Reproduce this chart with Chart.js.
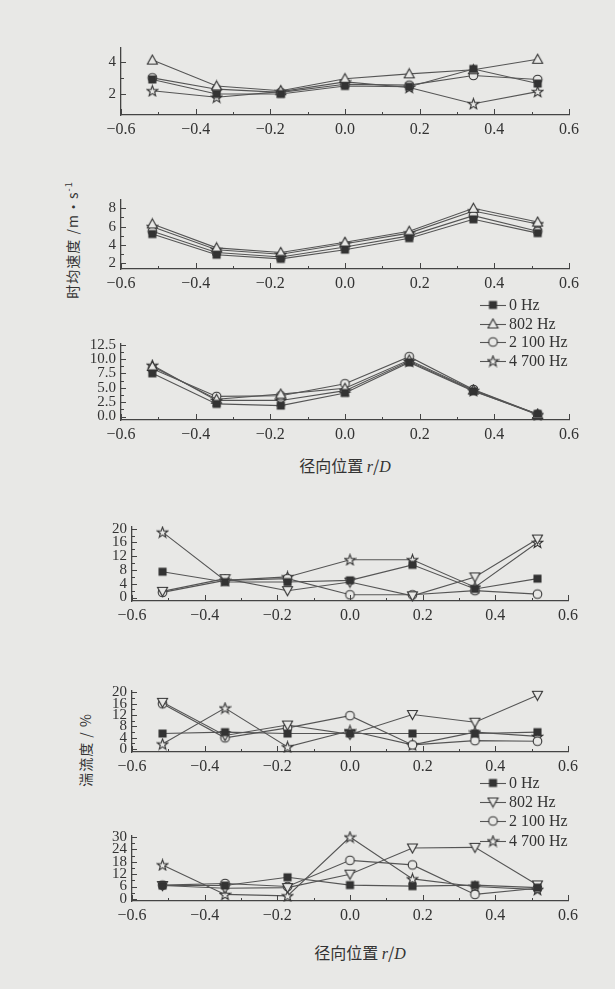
<!DOCTYPE html>
<html>
<head>
  <script src="https://cdn.jsdelivr.net/npm/chart.js@4.4.0/dist/chart.umd.min.js"></script>
  <style>
    body {
      margin: 0;
      width: 615px;
      height: 989px;
      position: relative;
      overflow: hidden;
      background: #e8e8e6;
      color: #333;
      font-family: "Liberation Serif", "DejaVu Serif", serif;
    }
    .plot { position: absolute; }
    .ytitle {
      position: absolute;
      transform: translate(-50%, -50%) rotate(-90deg);
      white-space: nowrap;
      font-family: "Noto Sans CJK SC", sans-serif;
      font-size: 14px;
      letter-spacing: 1px;
    }
    .xtitle {
      position: absolute;
      transform: translate(-50%, -50%);
      white-space: nowrap;
      font-family: "Noto Sans CJK SC", sans-serif;
      font-size: 16px;
    }
    .xtitle i, .ytitle i { font-family: "Liberation Serif", serif; }
    .legend { position: absolute; font-size: 16px; }
    .legend .row { display: flex; align-items: center; white-space: nowrap; }
    .legend canvas { margin-right: 3px; }
  </style>
</head>
<body>
  <div class="ytitle" style="left:72px; top:240px">时均速度 /m·s<sup style="font-size:9px">-1</sup></div>
  <div class="ytitle" style="left:85px; top:750px">湍流度 / %</div>
  <div class="xtitle" style="left:345px; top:465px">径向位置 <i>r</i>/<i>D</i></div>
  <div class="xtitle" style="left:360px; top:952px">径向位置 <i>r</i>/<i>D</i></div>
  <div class="legend" id="legTop" style="left:480px; top:296px"></div>
  <div class="legend" id="legBot" style="left:480px; top:773px"></div>

  <script>
    const BG = '#e8e8e6';
    const INK = '#333';
    const SERIF = '"Liberation Serif", "DejaVu Serif", serif';

    // radial positions and names
    const radial = [-0.516, -0.344, -0.172, 0, 0.172, 0.344, 0.516];
    const seriesNames = ['0 Hz', '802 Hz', '2 100 Hz', '4 700 Hz'];
    const xTicks = [-0.6, -0.4, -0.2, 0, 0.2, 0.4, 0.6];

    // mean velocity, three panels (m/s)
    const a0    = [2.9, 2.0, 2.0, 2.5, 2.45, 3.55, 2.65];
    const a802  = [4.1, 2.5, 2.2, 2.95, 3.25, 3.5, 4.15];
    const a2100 = [3.0, 2.3, 2.1, 2.6, 2.55, 3.15, 2.9];
    const a4700 = [2.2, 1.8, 2.15, 2.75, 2.4, 1.4, 2.15];
    const aTicks = [2, 4];

    const b0    = [5.2, 2.95, 2.5, 3.5, 4.75, 6.8, 5.3];
    const b802  = [6.3, 3.7, 3.2, 4.3, 5.5, 8.0, 6.5];
    const b2100 = [5.5, 3.2, 2.7, 3.8, 5.0, 7.2, 5.5];
    const b4700 = [6.0, 3.5, 3.0, 4.15, 5.3, 7.7, 6.3];
    const bTicks = [2, 4, 6, 8];

    const c0    = [7.5, 2.2, 1.9, 4.1, 9.4, 4.4, 0.45];
    const c802  = [8.7, 3.0, 3.9, 4.9, 9.8, 4.6, 0.35];
    const c2100 = [8.3, 3.5, 3.6, 5.7, 10.4, 4.7, 0.4];
    const c4700 = [8.9, 2.8, 2.8, 4.5, 9.6, 4.5, 0.3];
    const cTicks = [0, 2.5, 5, 7.5, 10, 12.5];

    // turbulence intensity, three panels (%)
    const d0    = [7.5, 4.5, 4.5, 5.0, 9.5, 2.5, 5.5];
    const d802  = [1.8, 5.5, 2.0, 4.5, 0.5, 6.0, 17];
    const d2100 = [1.5, 5.0, 5.5, 0.8, 0.8, 2.0, 1.0];
    const d4700 = [19, 5.0, 6.0, 11, 11, 3.0, 16];
    const dTicks = [0, 4, 8, 12, 16, 20];

    const e0    = [5.5, 6.0, 5.5, 5.5, 5.5, 5.5, 6.0];
    const e802  = [16.5, 4.8, 8.5, 5.2, 12.2, 9.5, 19];
    const e2100 = [16.0, 4.0, 7.5, 11.8, 1.5, 3.0, 2.8];
    const e4700 = [1.8, 14.5, 0.8, 6.5, 1.5, 6.0, 4.5];
    const eTicks = [0, 4, 8, 12, 16, 20];

    const f0    = [6.5, 6.5, 10.5, 6.7, 6.2, 6.7, 5.5];
    const f802  = [6.5, 5.2, 5.5, 12, 24.7, 25, 6.8];
    const f2100 = [6.7, 7.5, 6.0, 18.7, 16.5, 2.2, 5.2];
    const f4700 = [16.5, 2.2, 1.5, 30, 9.7, 6.0, 4.5];
    const fTicks = [0, 6, 12, 18, 24, 30];

    // marker glyphs drawn once, used as point styles
    function marker(kind) {
      const size = 13, m = size / 2;
      const c = document.createElement('canvas');
      c.width = c.height = size;
      const g = c.getContext('2d');
      g.lineWidth = 1.1;
      g.strokeStyle = INK;
      g.fillStyle = BG;
      g.beginPath();
      if (kind === 'square') {
        g.rect(m - 3.5, m - 3.5, 7, 7);
        g.fillStyle = INK;
      } else if (kind === 'triUp') {
        g.moveTo(m, 1.5); g.lineTo(size - 1.5, size - 2.5); g.lineTo(1.5, size - 2.5); g.closePath();
      } else if (kind === 'triDown') {
        g.moveTo(m, size - 1.5); g.lineTo(size - 1.5, 2.5); g.lineTo(1.5, 2.5); g.closePath();
      } else if (kind === 'circle') {
        g.arc(m, m, 4.3, 0, Math.PI * 2);
      } else if (kind === 'star') {
        for (let k = 0; k < 10; k++) {
          const r = k % 2 ? 2.3 : 5.6;
          const ang = -Math.PI / 2 + k * Math.PI / 5;
          const px = m + r * Math.cos(ang), py = m + 0.5 + r * Math.sin(ang);
          k ? g.lineTo(px, py) : g.moveTo(px, py);
        }
        g.closePath();
      }
      g.fill();
      g.stroke();
      return c;
    }
    const marks = {};
    ['square', 'triUp', 'triDown', 'circle', 'star'].forEach(k => marks[k] = marker(k));

    // inward tick marks, major and minor
    const inTicks = {
      id: 'inTicks',
      afterDraw(chart) {
        const {ctx, chartArea: a, scales: {x, y}} = chart;
        ctx.save();
        ctx.strokeStyle = '#444';
        ctx.lineWidth = 1;
        ctx.beginPath();
        for (let k = -6; k <= 6; k++) {
          const px = Math.round(x.getPixelForValue(k / 10)) + 0.5;
          const len = k % 2 === 0 ? 6 : 3;
          ctx.moveTo(px, a.bottom);
          ctx.lineTo(px, a.bottom - len);
        }
        y.ticks.forEach((t, i) => {
          const py = Math.round(y.getPixelForValue(t.value)) + 0.5;
          ctx.moveTo(a.left, py);
          ctx.lineTo(a.left + 5, py);
          if (i > 0) {
            const mid = Math.round(y.getPixelForValue((t.value + y.ticks[i - 1].value) / 2)) + 0.5;
            ctx.moveTo(a.left, mid);
            ctx.lineTo(a.left + 3, mid);
          }
        });
        ctx.stroke();
        ctx.restore();
      }
    };

    const fmtX = v => (v < 0 ? '\u2212' : '') + Math.abs(v).toFixed(1);

    function panel(p) {
      const padL = 62, padT = 8, padR = 26, padB = 26;
      const w = p.right - p.left + padL + padR;
      const h = p.bottom - p.top + padT + padB;
      const cv = document.createElement('canvas');
      cv.className = 'plot';
      cv.width = w; cv.height = h;
      cv.style.left = (p.left - padL) + 'px';
      cv.style.top = (p.top - padT) + 'px';
      document.body.appendChild(cv);

      new Chart(cv, {
        type: 'line',
        data: {
          datasets: p.series.map((arr, i) => ({
            label: seriesNames[i],
            data: radial.map((r, j) => ({x: r, y: arr[j]})),
            borderColor: '#555',
            borderWidth: 1.1,
            pointStyle: marks[p.markers[i]],
            pointRadius: 5,
            fill: false,
            tension: 0,
            clip: false
          }))
        },
        options: {
          responsive: false,
          animation: false,
          layout: {padding: {left: 0, top: padT, right: padR, bottom: 0}},
          plugins: {legend: {display: false}, tooltip: {enabled: false}},
          scales: {
            x: {
              type: 'linear', min: -0.6, max: 0.6,
              afterBuildTicks: s => { s.ticks = xTicks.map(v => ({value: v})); },
              afterFit: s => { s.height = padB; },
              grid: {drawOnChartArea: false, drawTicks: false},
              border: {display: true, color: '#444', width: 1.3},
              ticks: {padding: 5, color: INK, autoSkip: false, maxRotation: 0,
                      font: {family: SERIF, size: 16}, callback: v => fmtX(v)}
            },
            y: {
              min: p.min, max: p.max,
              afterBuildTicks: s => { s.ticks = p.ticks.map(v => ({value: v})); },
              afterFit: s => { s.width = padL; },
              grid: {drawOnChartArea: false, drawTicks: false},
              border: {display: true, color: '#444', width: 1.3},
              ticks: {padding: 5, color: INK, autoSkip: false,
                      font: {family: SERIF, size: 15}, callback: v => v.toFixed(p.dec)}
            }
          }
        },
        plugins: [inTicks]
      });
    }

    const topMarks = ['square', 'triUp', 'circle', 'star'];
    const botMarks = ['square', 'triDown', 'circle', 'star'];

    panel({left: 121, right: 569, top: 42, bottom: 115, min: 0.7, max: 4.85, ticks: aTicks, dec: 0,
           series: [a0, a802, a2100, a4700], markers: topMarks});
    panel({left: 121, right: 569, top: 194, bottom: 269, min: 1.4, max: 8.9, ticks: bTicks, dec: 0,
           series: [b0, b802, b2100, b4700], markers: topMarks});
    panel({left: 121, right: 569, top: 338, bottom: 420, min: -0.6, max: 12.6, ticks: cTicks, dec: 1,
           series: [c0, c802, c2100, c4700], markers: topMarks});
    panel({left: 132, right: 568, top: 521, bottom: 601, min: -1, max: 20.5, ticks: dTicks, dec: 0,
           series: [d0, d802, d2100, d4700], markers: botMarks});
    panel({left: 132, right: 568, top: 685, bottom: 752, min: -1, max: 20.5, ticks: eTicks, dec: 0,
           series: [e0, e802, e2100, e4700], markers: botMarks});
    panel({left: 132, right: 568, top: 830, bottom: 901, min: -1, max: 30.5, ticks: fTicks, dec: 0,
           series: [f0, f802, f2100, f4700], markers: botMarks});

    // legends: short line with marker, then the label
    function legend(id, kinds) {
      const box = document.getElementById(id);
      seriesNames.forEach((name, i) => {
        const row = document.createElement('div');
        row.className = 'row';
        row.style.height = (id === 'legTop' ? 18.5 : 19.3) + 'px';
        const c = document.createElement('canvas');
        c.width = 26; c.height = 14;
        const g = c.getContext('2d');
        g.strokeStyle = '#555'; g.lineWidth = 1.1;
        g.beginPath(); g.moveTo(0, 7.5); g.lineTo(26, 7.5); g.stroke();
        g.drawImage(marks[kinds[i]], 6.5, 0.5);
        row.appendChild(c);
        const s = document.createElement('span');
        s.textContent = name;
        row.appendChild(s);
        box.appendChild(row);
      });
    }
    legend('legTop', topMarks);
    legend('legBot', botMarks);
  </script>
</body>
</html>
